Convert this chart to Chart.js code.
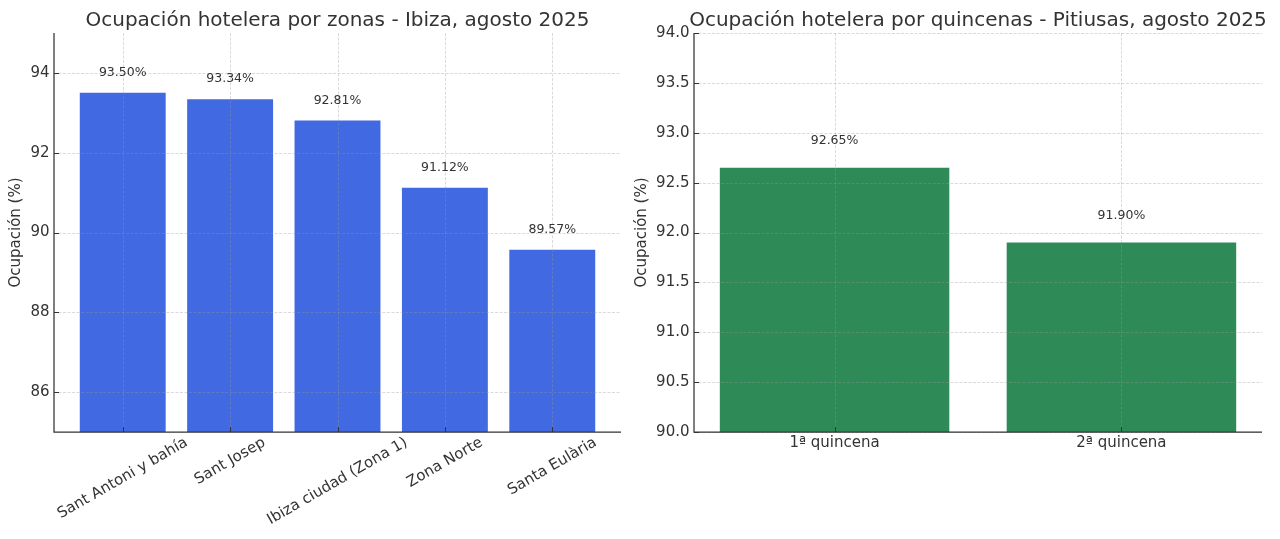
<!DOCTYPE html>
<html lang="es">
<head>
<meta charset="utf-8">
<title>Ocupación hotelera - agosto 2025</title>
<script src="https://cdn.jsdelivr.net/npm/chart.js@4.4.1/dist/chart.umd.min.js"></script>
<style>
  html, body { margin: 0; padding: 0; background: #fff; }
  #wrap { position: relative; width: 1280px; height: 539px; overflow: hidden; }
  canvas { position: absolute; top: 0; }
  #zonas { left: 0; }
  #quincenas { left: 620px; }
</style>
</head>
<body>
<div id="wrap">
  <canvas id="zonas" width="640" height="539"></canvas>
  <canvas id="quincenas" width="660" height="539"></canvas>
</div>
<script>
// Ocupación por zonas - Ibiza
const zonas = ['Sant Antoni y bahía', 'Sant Josep', 'Ibiza ciudad (Zona 1)', 'Zona Norte', 'Santa Eulària'];
const ocupacionZonas = [93.50, 93.34, 92.81, 91.12, 89.57];
const ticksZonas = [86, 88, 90, 92, 94];
const etiquetasZonas = ['86', '88', '90', '92', '94'];

// Ocupación por quincenas - Pitiusas
const quincenas = ['1ª quincena', '2ª quincena'];
const ocupacionQuincenas = [92.65, 91.90];
const ticksQuincenas = [90, 90.5, 91, 91.5, 92, 92.5, 93, 93.5, 94];
const etiquetasQuincenas = ['90.0', '90.5', '91.0', '91.5', '92.0', '92.5', '93.0', '93.5', '94.0'];

const FUENTE = 'DejaVu Sans, sans-serif';
const TEXTO = '#333333';

// rejilla, ejes, etiquetas de valor, etiquetas x y título (encima de las barras, como matplotlib)
const decorado = {
  id: 'decorado',
  afterDatasetsDraw(chart, args, opts) {
    const { ctx, chartArea: a, scales: { x, y } } = chart;
    ctx.save();

    // rejilla discontinua
    ctx.strokeStyle = 'rgba(150,150,150,0.45)';
    ctx.lineWidth = 0.8;
    ctx.setLineDash([3, 1.5]);
    ctx.beginPath();
    y.ticks.forEach(t => {
      const py = Math.round(y.getPixelForValue(t.value)) + 0.5;
      ctx.moveTo(a.left, py);
      ctx.lineTo(a.right, py);
    });
    x.ticks.forEach(t => {
      const px = Math.round(x.getPixelForValue(t.value)) + 0.5;
      ctx.moveTo(px, a.top);
      ctx.lineTo(px, a.bottom);
    });
    ctx.stroke();
    ctx.setLineDash([]);

    // marcas hacia dentro
    ctx.strokeStyle = TEXTO;
    ctx.lineWidth = 1;
    ctx.beginPath();
    y.ticks.forEach(t => {
      const py = Math.round(y.getPixelForValue(t.value)) + 0.5;
      ctx.moveTo(a.left, py);
      ctx.lineTo(a.left + 5, py);
    });
    x.ticks.forEach(t => {
      const px = Math.round(x.getPixelForValue(t.value)) + 0.5;
      ctx.moveTo(px, a.bottom);
      ctx.lineTo(px, a.bottom - 5);
    });
    ctx.stroke();

    // ejes izquierdo e inferior
    ctx.lineWidth = 1.25;
    ctx.beginPath();
    ctx.moveTo(a.left, a.top);
    ctx.lineTo(a.left, a.bottom);
    ctx.lineTo(a.right, a.bottom);
    ctx.stroke();

    // valores sobre las barras
    ctx.fillStyle = TEXTO;
    ctx.font = '12.5px ' + FUENTE;
    ctx.textAlign = 'center';
    ctx.textBaseline = 'middle';
    const meta = chart.getDatasetMeta(0);
    meta.data.forEach((bar, i) => {
      const v = chart.data.datasets[0].data[i].y;
      ctx.fillText(v.toFixed(2) + '%', bar.x, bar.y - opts.desplazamiento);
    });

    // etiquetas del eje x
    ctx.font = '15px ' + FUENTE;
    const rot = opts.rotacion * Math.PI / 180;
    const alto = 15 * 1.164;
    x.ticks.forEach((t, i) => {
      const texto = opts.categorias[i];
      const w = ctx.measureText(texto).width;
      const cajaAlto = w * Math.sin(rot) + alto * Math.cos(rot);
      const px = x.getPixelForValue(t.value);
      const py = a.bottom + 2 + cajaAlto / 2;
      ctx.save();
      ctx.translate(px, py);
      ctx.rotate(-rot);
      ctx.fillText(texto, 0, 0);
      ctx.restore();
    });

    // título
    ctx.font = '20px ' + FUENTE;
    ctx.textBaseline = 'alphabetic';
    ctx.fillText(opts.titulo, (a.left + a.right) / 2, a.top - 7);

    ctx.restore();
  }
};

function crearGrafico(id, cfg) {
  return new Chart(document.getElementById(id), {
    type: 'bar',
    data: {
      datasets: [{
        data: cfg.valores.map((v, i) => ({ x: i, y: v })),
        backgroundColor: cfg.color,
        barPercentage: 0.8,
        categoryPercentage: 1,
        base: cfg.yMin
      }]
    },
    options: {
      responsive: false,
      animation: false,
      devicePixelRatio: 1,
      layout: { padding: { top: 33, right: cfg.derecha, left: 0, bottom: 0 } },
      plugins: {
        legend: { display: false },
        tooltip: { enabled: false },
        decorado: {
          titulo: cfg.titulo,
          categorias: cfg.categorias,
          rotacion: cfg.rotacion,
          desplazamiento: cfg.desplazamiento
        }
      },
      scales: {
        x: {
          type: 'linear',
          offset: false,
          min: cfg.xMin,
          max: cfg.xMax,
          grid: { display: false, drawTicks: false },
          border: { display: false },
          ticks: { display: false },
          afterBuildTicks: s => { s.ticks = cfg.categorias.map((c, i) => ({ value: i })); },
          afterFit: s => { s.height = 107; }
        },
        y: {
          min: cfg.yMin,
          max: cfg.yMax,
          grid: { display: false, drawTicks: false },
          border: { display: false },
          afterBuildTicks: s => { s.ticks = cfg.ticks.map(v => ({ value: v })); },
          afterFit: s => { s.width = cfg.anchoEje; },
          ticks: {
            padding: 4.5,
            color: TEXTO,
            font: { family: FUENTE, size: 15 },
            callback: (v, i) => cfg.etiquetas[i]
          },
          title: {
            display: true,
            text: 'Ocupación (%)',
            color: TEXTO,
            font: { family: FUENTE, size: 15 },
            padding: { top: cfg.padTitulo, bottom: 0 }
          }
        }
      }
    },
    plugins: [decorado]
  });
}

crearGrafico('zonas', {
  titulo: 'Ocupación hotelera por zonas - Ibiza, agosto 2025',
  categorias: zonas,
  valores: ocupacionZonas,
  ticks: ticksZonas,
  etiquetas: etiquetasZonas,
  color: '#4169E1',
  yMin: 85, yMax: 95,
  xMin: -0.64, xMax: 4.64,
  anchoEje: 54, derecha: 19, padTitulo: 7,
  rotacion: 30, desplazamiento: 20
});

crearGrafico('quincenas', {
  titulo: 'Ocupación hotelera por quincenas - Pitiusas, agosto 2025',
  categorias: quincenas,
  valores: ocupacionQuincenas,
  ticks: ticksQuincenas,
  etiquetas: etiquetasQuincenas,
  color: '#2E8B57',
  yMin: 90, yMax: 94,
  xMin: -0.49, xMax: 1.49,
  anchoEje: 74, derecha: 18, padTitulo: 13,
  rotacion: 0, desplazamiento: 26.5
});
</script>
</body>
</html>
